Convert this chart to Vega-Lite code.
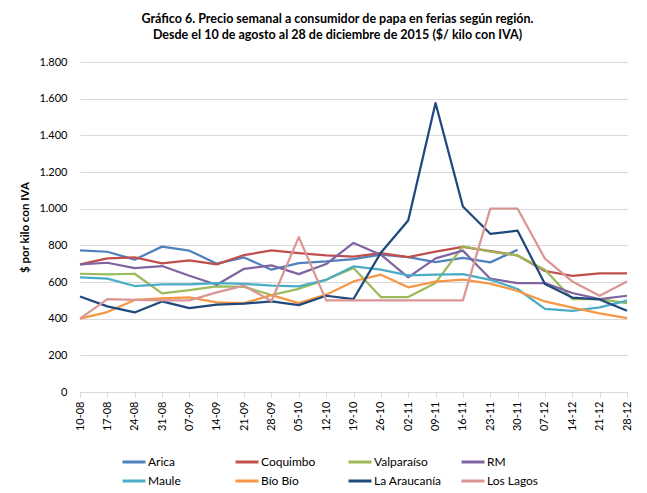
{
  "$schema": "https://vega.github.io/schema/vega-lite/v6.json",
  "width": 547,
  "height": 330,
  "autosize": {"type": "none"},
  "padding": {"left": 80, "top": 62, "right": 20, "bottom": 101},
  "background": "white",
  "config": {
    "locale": {"number": {"decimal": ",", "thousands": ".", "grouping": [3], "currency": ["$", ""]}},
    "font": "Lato",
    "view": {"stroke": null}
  },
  "title": {
    "text": ["Gráfico 6. Precio semanal a consumidor de papa en ferias según región.", "Desde el 10 de agosto al 28 de diciembre de 2015  ($/ kilo con IVA)"],
    "font": "Lato",
    "fontSize": 12.5,
    "fontWeight": "bold",
    "color": "#000000",
    "anchor": "middle",
    "dx": -16,
    "offset": 14,
    "lineHeight": 16.7
  },
  "datasets": {
    "precios": [
      {"fecha": "10-08", "region": "Arica", "precio": 772},
      {"fecha": "17-08", "region": "Arica", "precio": 765},
      {"fecha": "24-08", "region": "Arica", "precio": 722},
      {"fecha": "31-08", "region": "Arica", "precio": 793},
      {"fecha": "07-09", "region": "Arica", "precio": 771},
      {"fecha": "14-09", "region": "Arica", "precio": 700},
      {"fecha": "21-09", "region": "Arica", "precio": 734},
      {"fecha": "28-09", "region": "Arica", "precio": 667},
      {"fecha": "05-10", "region": "Arica", "precio": 703},
      {"fecha": "12-10", "region": "Arica", "precio": 712},
      {"fecha": "19-10", "region": "Arica", "precio": 725},
      {"fecha": "26-10", "region": "Arica", "precio": 749},
      {"fecha": "02-11", "region": "Arica", "precio": 736},
      {"fecha": "09-11", "region": "Arica", "precio": 708},
      {"fecha": "16-11", "region": "Arica", "precio": 731},
      {"fecha": "23-11", "region": "Arica", "precio": 707},
      {"fecha": "30-11", "region": "Arica", "precio": 776},

      {"fecha": "10-08", "region": "Coquimbo", "precio": 696},
      {"fecha": "17-08", "region": "Coquimbo", "precio": 729},
      {"fecha": "24-08", "region": "Coquimbo", "precio": 734},
      {"fecha": "31-08", "region": "Coquimbo", "precio": 702},
      {"fecha": "07-09", "region": "Coquimbo", "precio": 718},
      {"fecha": "14-09", "region": "Coquimbo", "precio": 696},
      {"fecha": "21-09", "region": "Coquimbo", "precio": 747},
      {"fecha": "28-09", "region": "Coquimbo", "precio": 772},
      {"fecha": "05-10", "region": "Coquimbo", "precio": 758},
      {"fecha": "12-10", "region": "Coquimbo", "precio": 745},
      {"fecha": "19-10", "region": "Coquimbo", "precio": 738},
      {"fecha": "26-10", "region": "Coquimbo", "precio": 758},
      {"fecha": "02-11", "region": "Coquimbo", "precio": 736},
      {"fecha": "09-11", "region": "Coquimbo", "precio": 766},
      {"fecha": "16-11", "region": "Coquimbo", "precio": 791},
      {"fecha": "23-11", "region": "Coquimbo", "precio": 768},
      {"fecha": "30-11", "region": "Coquimbo", "precio": 745},
      {"fecha": "07-12", "region": "Coquimbo", "precio": 660},
      {"fecha": "14-12", "region": "Coquimbo", "precio": 633},
      {"fecha": "21-12", "region": "Coquimbo", "precio": 647},
      {"fecha": "28-12", "region": "Coquimbo", "precio": 647},

      {"fecha": "10-08", "region": "Valparaíso", "precio": 645},
      {"fecha": "17-08", "region": "Valparaíso", "precio": 642},
      {"fecha": "24-08", "region": "Valparaíso", "precio": 645},
      {"fecha": "31-08", "region": "Valparaíso", "precio": 538},
      {"fecha": "07-09", "region": "Valparaíso", "precio": 556},
      {"fecha": "14-09", "region": "Valparaíso", "precio": 576},
      {"fecha": "21-09", "region": "Valparaíso", "precio": 573},
      {"fecha": "28-09", "region": "Valparaíso", "precio": 529},
      {"fecha": "05-10", "region": "Valparaíso", "precio": 563},
      {"fecha": "12-10", "region": "Valparaíso", "precio": 612},
      {"fecha": "19-10", "region": "Valparaíso", "precio": 676},
      {"fecha": "26-10", "region": "Valparaíso", "precio": 518},
      {"fecha": "02-11", "region": "Valparaíso", "precio": 518},
      {"fecha": "09-11", "region": "Valparaíso", "precio": 595},
      {"fecha": "16-11", "region": "Valparaíso", "precio": 795},
      {"fecha": "23-11", "region": "Valparaíso", "precio": 765},
      {"fecha": "30-11", "region": "Valparaíso", "precio": 745},
      {"fecha": "07-12", "region": "Valparaíso", "precio": 667},
      {"fecha": "14-12", "region": "Valparaíso", "precio": 507},
      {"fecha": "21-12", "region": "Valparaíso", "precio": 507},
      {"fecha": "28-12", "region": "Valparaíso", "precio": 485},

      {"fecha": "10-08", "region": "RM", "precio": 696},
      {"fecha": "17-08", "region": "RM", "precio": 705},
      {"fecha": "24-08", "region": "RM", "precio": 676},
      {"fecha": "31-08", "region": "RM", "precio": 687},
      {"fecha": "07-09", "region": "RM", "precio": 634},
      {"fecha": "14-09", "region": "RM", "precio": 585},
      {"fecha": "21-09", "region": "RM", "precio": 672},
      {"fecha": "28-09", "region": "RM", "precio": 691},
      {"fecha": "05-10", "region": "RM", "precio": 643},
      {"fecha": "12-10", "region": "RM", "precio": 698},
      {"fecha": "19-10", "region": "RM", "precio": 813},
      {"fecha": "26-10", "region": "RM", "precio": 749},
      {"fecha": "02-11", "region": "RM", "precio": 625},
      {"fecha": "09-11", "region": "RM", "precio": 729},
      {"fecha": "16-11", "region": "RM", "precio": 771},
      {"fecha": "23-11", "region": "RM", "precio": 618},
      {"fecha": "30-11", "region": "RM", "precio": 594},
      {"fecha": "07-12", "region": "RM", "precio": 594},
      {"fecha": "14-12", "region": "RM", "precio": 540},
      {"fecha": "21-12", "region": "RM", "precio": 507},
      {"fecha": "28-12", "region": "RM", "precio": 525},

      {"fecha": "10-08", "region": "Maule", "precio": 625},
      {"fecha": "17-08", "region": "Maule", "precio": 618},
      {"fecha": "24-08", "region": "Maule", "precio": 578},
      {"fecha": "31-08", "region": "Maule", "precio": 587},
      {"fecha": "07-09", "region": "Maule", "precio": 587},
      {"fecha": "14-09", "region": "Maule", "precio": 594},
      {"fecha": "21-09", "region": "Maule", "precio": 590},
      {"fecha": "28-09", "region": "Maule", "precio": 580},
      {"fecha": "05-10", "region": "Maule", "precio": 576},
      {"fecha": "12-10", "region": "Maule", "precio": 612},
      {"fecha": "19-10", "region": "Maule", "precio": 685},
      {"fecha": "26-10", "region": "Maule", "precio": 667},
      {"fecha": "02-11", "region": "Maule", "precio": 636},
      {"fecha": "09-11", "region": "Maule", "precio": 640},
      {"fecha": "16-11", "region": "Maule", "precio": 643},
      {"fecha": "23-11", "region": "Maule", "precio": 612},
      {"fecha": "30-11", "region": "Maule", "precio": 562},
      {"fecha": "07-12", "region": "Maule", "precio": 453},
      {"fecha": "14-12", "region": "Maule", "precio": 443},
      {"fecha": "21-12", "region": "Maule", "precio": 462},
      {"fecha": "28-12", "region": "Maule", "precio": 498},

      {"fecha": "10-08", "region": "Bío Bío", "precio": 400},
      {"fecha": "17-08", "region": "Bío Bío", "precio": 436},
      {"fecha": "24-08", "region": "Bío Bío", "precio": 502},
      {"fecha": "31-08", "region": "Bío Bío", "precio": 511},
      {"fecha": "07-09", "region": "Bío Bío", "precio": 516},
      {"fecha": "14-09", "region": "Bío Bío", "precio": 489},
      {"fecha": "21-09", "region": "Bío Bío", "precio": 485},
      {"fecha": "28-09", "region": "Bío Bío", "precio": 528},
      {"fecha": "05-10", "region": "Bío Bío", "precio": 485},
      {"fecha": "12-10", "region": "Bío Bío", "precio": 531},
      {"fecha": "19-10", "region": "Bío Bío", "precio": 603},
      {"fecha": "26-10", "region": "Bío Bío", "precio": 640},
      {"fecha": "02-11", "region": "Bío Bío", "precio": 571},
      {"fecha": "09-11", "region": "Bío Bío", "precio": 602},
      {"fecha": "16-11", "region": "Bío Bío", "precio": 613},
      {"fecha": "23-11", "region": "Bío Bío", "precio": 591},
      {"fecha": "30-11", "region": "Bío Bío", "precio": 551},
      {"fecha": "07-12", "region": "Bío Bío", "precio": 494},
      {"fecha": "14-12", "region": "Bío Bío", "precio": 460},
      {"fecha": "21-12", "region": "Bío Bío", "precio": 429},
      {"fecha": "28-12", "region": "Bío Bío", "precio": 403},

      {"fecha": "10-08", "region": "La Araucanía", "precio": 521},
      {"fecha": "17-08", "region": "La Araucanía", "precio": 467},
      {"fecha": "24-08", "region": "La Araucanía", "precio": 434},
      {"fecha": "31-08", "region": "La Araucanía", "precio": 494},
      {"fecha": "07-09", "region": "La Araucanía", "precio": 458},
      {"fecha": "14-09", "region": "La Araucanía", "precio": 476},
      {"fecha": "21-09", "region": "La Araucanía", "precio": 482},
      {"fecha": "28-09", "region": "La Araucanía", "precio": 494},
      {"fecha": "05-10", "region": "La Araucanía", "precio": 474},
      {"fecha": "12-10", "region": "La Araucanía", "precio": 525},
      {"fecha": "19-10", "region": "La Araucanía", "precio": 507},
      {"fecha": "26-10", "region": "La Araucanía", "precio": 760},
      {"fecha": "02-11", "region": "La Araucanía", "precio": 936},
      {"fecha": "09-11", "region": "La Araucanía", "precio": 1576},
      {"fecha": "16-11", "region": "La Araucanía", "precio": 1012},
      {"fecha": "23-11", "region": "La Araucanía", "precio": 863},
      {"fecha": "30-11", "region": "La Araucanía", "precio": 880},
      {"fecha": "07-12", "region": "La Araucanía", "precio": 589},
      {"fecha": "14-12", "region": "La Araucanía", "precio": 515},
      {"fecha": "21-12", "region": "La Araucanía", "precio": 505},
      {"fecha": "28-12", "region": "La Araucanía", "precio": 443},

      {"fecha": "10-08", "region": "Los Lagos", "precio": 400},
      {"fecha": "17-08", "region": "Los Lagos", "precio": 507},
      {"fecha": "24-08", "region": "Los Lagos", "precio": 502},
      {"fecha": "31-08", "region": "Los Lagos", "precio": 500},
      {"fecha": "07-09", "region": "Los Lagos", "precio": 500},
      {"fecha": "14-09", "region": "Los Lagos", "precio": 543},
      {"fecha": "21-09", "region": "Los Lagos", "precio": 580},
      {"fecha": "28-09", "region": "Los Lagos", "precio": 496},
      {"fecha": "05-10", "region": "Los Lagos", "precio": 845},
      {"fecha": "12-10", "region": "Los Lagos", "precio": 500},
      {"fecha": "19-10", "region": "Los Lagos", "precio": 500},
      {"fecha": "26-10", "region": "Los Lagos", "precio": 500},
      {"fecha": "02-11", "region": "Los Lagos", "precio": 500},
      {"fecha": "09-11", "region": "Los Lagos", "precio": 500},
      {"fecha": "16-11", "region": "Los Lagos", "precio": 500},
      {"fecha": "23-11", "region": "Los Lagos", "precio": 1000},
      {"fecha": "30-11", "region": "Los Lagos", "precio": 1000},
      {"fecha": "07-12", "region": "Los Lagos", "precio": 727},
      {"fecha": "14-12", "region": "Los Lagos", "precio": 603},
      {"fecha": "21-12", "region": "Los Lagos", "precio": 525},
      {"fecha": "28-12", "region": "Los Lagos", "precio": 603}
    ]
  },
  "data": {"name": "precios"},
  "mark": {"type": "line", "strokeWidth": 2.25, "strokeJoin": "round"},
  "encoding": {
    "x": {
      "field": "fecha",
      "type": "ordinal",
      "sort": null,
      "scale": {"type": "point", "padding": 0},
      "axis": {
        "title": null,
        "labelAngle": -90,
        "labelAlign": "right",
        "labelBaseline": "middle",
        "labelFont": "Lato",
        "labelFontSize": 11,
        "labelColor": "#000000",
        "labelPadding": 4,
        "domainColor": "#D9D9D9",
        "domainWidth": 1,
        "tickColor": "#D9D9D9",
        "tickSize": 5,
        "grid": false
      }
    },
    "y": {
      "field": "precio",
      "type": "quantitative",
      "scale": {"domain": [0, 1800]},
      "axis": {
        "values": [0, 200, 400, 600, 800, 1000, 1200, 1400, 1600, 1800],
        "format": ",d",
        "title": "$ por kilo con IVA",
        "titleFont": "Lato",
        "titleFontSize": 11.5,
        "titleFontWeight": "bold",
        "titleColor": "#000000",
        "titleX": -55,
        "titleY": 165,
        "titleAngle": -90,
        "titleAlign": "center",
        "titleBaseline": "middle",
        "labelFont": "Lato",
        "labelFontSize": 11,
        "labelColor": "#000000",
        "labelPadding": 13,
        "domain": false,
        "ticks": false,
        "grid": true,
        "gridColor": "#D9D9D9",
        "gridWidth": 1
      }
    },
    "color": {
      "field": "region",
      "type": "nominal",
      "sort": ["Arica", "Coquimbo", "Valparaíso", "RM", "Maule", "Bío Bío", "La Araucanía", "Los Lagos"],
      "scale": {
        "domain": ["Arica", "Coquimbo", "Valparaíso", "RM", "Maule", "Bío Bío", "La Araucanía", "Los Lagos"],
        "range": ["#4F81BD", "#C0504D", "#9BBB59", "#8064A2", "#4BACC6", "#F79646", "#1F497D", "#D99694"]
      },
      "legend": {
        "title": null,
        "orient": "none",
        "legendX": 41,
        "legendY": 387,
        "direction": "horizontal",
        "columns": 4,
        "gridAlign": "all",
        "columnPadding": 13,
        "rowPadding": -8,
        "symbolType": "stroke",
        "symbolSize": 529,
        "symbolStrokeWidth": 3,
        "labelFont": "Lato",
        "labelFontSize": 12,
        "labelColor": "#000000",
        "labelOffset": 1
      }
    }
  }
}
